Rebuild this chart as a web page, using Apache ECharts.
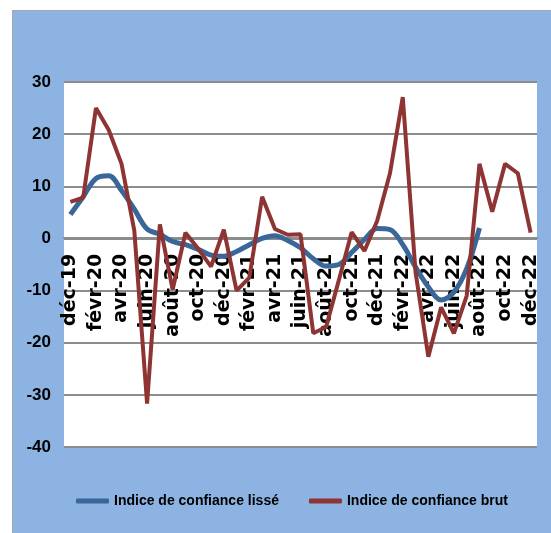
<!DOCTYPE html>
<html>
<head>
<meta charset="utf-8">
<script src="https://cdn.jsdelivr.net/npm/echarts@6/dist/echarts.min.js"></script>
<style>
  html, body { margin: 0; padding: 0; background: #fff; }
  #chart {
    position: absolute; left: 12px; top: 10px;
    width: 539px; height: 523px;
    background: #8DB3E2;
    border-left: 1px solid #a6a6a6; border-top: 1px solid #a6a6a6;
    box-sizing: border-box;
  }
</style>
</head>
<body>
<div id="chart"></div>
<script>
// mois (déc-19 .. déc-22)
var mois = ['déc-19','janv-20','févr-20','mars-20','avr-20','mai-20','juin-20','juil-20','août-20','sept-20','oct-20','nov-20',
    'déc-20','janv-21','févr-21','mars-21','avr-21','mai-21','juin-21','juil-21','août-21','sept-21','oct-21','nov-21',
    'déc-21','janv-22','févr-22','mars-22','avr-22','mai-22','juin-22','juil-22','août-22','sept-22','oct-22','nov-22','déc-22'];

var lisse = [4.6, 8, 11.5, 12, 9.2, 5.6, 1.8, 0.8, -0.6, -1.2, -2.1, -3.2,
    -3.4, -2.5, -1.2, 0, 0.5, -0.4, -1.8, -3.9, -5.3, -5, -2.7, -0.2,
    1.9, 1.7, -1.2, -5.5, -9.3, -11.8, -10.3, -5.8, 2.0, null, null, null, null];

var brut = [7, 7.8, 25, 20.8, 14.3, 1.5, -31.7, 2.7, -9.8, 1.1, -2, -5.4,
    1.7, -10, -7.5, 8, 1.8, 0.7, 0.8, -18.2, -17, -8, 1.2, -2.4,
    3.4, 12.5, 27.1, -6.5, -22.7, -13.2, -18.2, -11, 14.3, 5.1, 14.3, 12.5, 1.1];

var yMin = -40, yMax = 30;

var myChart = echarts.init(document.getElementById('chart'));

// plot area (in chart div pixels)
var gLeft = 51, gRight = 14, gTop = 71, gBottom = 86;
var gH = 523 - gTop - gBottom;
var zeroY = gTop + gH * yMax / (yMax - yMin);   // position of the 0 line

var gray = '#8c8c8c';

var option = {
    animation: false,
    legend: {
        left: 58,
        top: 478,
        itemWidth: 33,
        itemHeight: 5,
        itemGap: 30,
        icon: 'roundRect',
        textStyle: { fontFamily: 'Liberation Sans', fontSize: 14, fontWeight: 'bold', color: '#000' },
        data: ['Indice de confiance lissé', 'Indice de confiance brut']
    },
    grid: [
        // main plot
        { left: gLeft, right: gRight, top: gTop, bottom: gBottom, show: true, backgroundColor: '#fff', borderWidth: 0 },
        // upper part: x axis drawn at its bottom edge (= 0 line), labels below
        { left: gLeft, right: gRight, top: gTop, bottom: 523 - zeroY },
        // lower part: ticks pointing up from the 0 line
        { left: gLeft, right: gRight, top: zeroY, bottom: gBottom }
    ],
    xAxis: [
        {
            type: 'category', gridIndex: 0, data: mois, boundaryGap: true,
            axisLine: { show: false }, axisTick: { show: false }, axisLabel: { show: false }
        },
        {
            type: 'category', gridIndex: 1, data: mois, boundaryGap: true, position: 'bottom',
            axisLine: { onZero: false, lineStyle: { color: gray, width: 2 } },
            axisTick: { interval: 1, length: 8, lineStyle: { color: gray, width: 2 } },
            axisLabel: {
                interval: 1,
                rotate: 90,
                margin: 16,
                color: '#000',
                fontFamily: 'DejaVu Sans',
                fontWeight: 'bold',
                fontSize: 19
            }
        },
        {
            type: 'category', gridIndex: 2, data: mois, boundaryGap: true, position: 'top',
            axisLine: { onZero: false, show: false },
            axisTick: { interval: 1, length: 7, lineStyle: { color: gray, width: 2 } },
            axisLabel: { show: false }
        }
    ],
    yAxis: [
        {
            type: 'value', gridIndex: 0,
            min: yMin,
            max: yMax,
            interval: 10,
            axisLine: { show: false },
            axisTick: { show: false },
            axisLabel: { color: '#000', fontSize: 17, fontWeight: 'bold', margin: 13, fontFamily: 'Liberation Sans' },
            splitLine: { lineStyle: { color: gray, width: 2 } }
        },
        { type: 'value', gridIndex: 1, show: false, splitLine: { show: false } },
        { type: 'value', gridIndex: 2, show: false, splitLine: { show: false } }
    ],
    series: [
        {
            name: 'Indice de confiance lissé',
            type: 'line',
            xAxisIndex: 0, yAxisIndex: 0,
            z: 10,
            data: lisse,
            smooth: 0.35,
            symbol: 'none',
            color: '#3A6799',
            lineStyle: { width: 5, color: '#3A6799' }
        },
        {
            name: 'Indice de confiance brut',
            type: 'line',
            xAxisIndex: 0, yAxisIndex: 0,
            z: 10,
            data: brut,
            symbol: 'none',
            color: '#8E3433',
            lineStyle: { width: 4, color: '#8E3433' }
        }
    ]
};

myChart.setOption(option);
</script>
</body>
</html>
